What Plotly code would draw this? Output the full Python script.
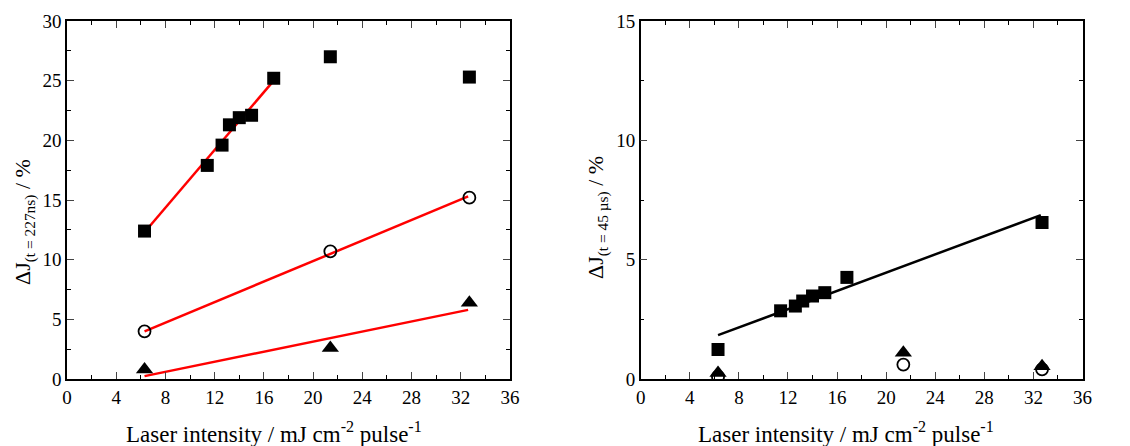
import plotly.graph_objects as go

# Left panel: ΔJ at t = 227 ns
sq_x_a = [6.3, 11.4, 12.6, 13.2, 14.0, 15.0, 16.8, 21.4, 32.7]
sq_y_a = [12.4, 17.9, 19.6, 21.3, 21.9, 22.1, 25.2, 27.0, 25.3]
ci_x_a = [6.3, 21.4, 32.7]
ci_y_a = [4.0, 10.7, 15.2]
tr_x_a = [6.3, 21.4, 32.7]
tr_y_a = [0.8, 2.6, 6.4]

# linear fits (end points)
fit_sq_x_a = [6.3, 16.8]
fit_sq_y_a = [12.3, 25.0]
fit_ci_x_a = [6.3, 32.6]
fit_ci_y_a = [4.0, 15.3]
fit_tr_x_a = [6.3, 32.6]
fit_tr_y_a = [0.25, 5.8]

# Right panel: ΔJ at t = 45 µs
sq_x_b = [6.3, 11.4, 12.6, 13.2, 14.0, 15.0, 16.8, 32.7]
sq_y_b = [1.24, 2.86, 3.06, 3.27, 3.48, 3.62, 4.26, 6.56]
ci_x_b = [6.3, 21.4, 32.7]
ci_y_b = [0.1, 0.61, 0.41]
tr_x_b = [6.3, 21.4, 32.7]
tr_y_b = [0.26, 1.1, 0.54]

fit_sq_x_b = [6.3, 32.6]
fit_sq_y_b = [1.84, 6.87]

x_ticks = [0, 4, 8, 12, 16, 20, 24, 28, 32, 36]

x_title = "Laser intensity / mJ cm<sup>-2</sup> pulse<sup>-1</sup>"
y_title_a = "ΔJ<sub>(t = 227ns)</sub> / %"
y_title_b = "ΔJ<sub>(t = 45 µs)</sub> / %"

FONT = "Liberation Serif"
W, H = 1130, 446

fig = go.Figure()

def add_panel(xa, ya, sqx, sqy, cix, ciy, trx, try_, fits):
    for fx, fy, col in fits:
        fig.add_trace(go.Scatter(x=fx, y=fy, mode="lines", xaxis=xa, yaxis=ya,
                                 line=dict(color=col, width=2.5), showlegend=False,
                                 hoverinfo="skip"))
    fig.add_trace(go.Scatter(x=cix, y=ciy, mode="markers", xaxis=xa, yaxis=ya,
                             marker=dict(symbol="circle-open", size=12, color="black",
                                         line=dict(width=1.8)), showlegend=False))
    fig.add_trace(go.Scatter(x=trx, y=try_, mode="markers", xaxis=xa, yaxis=ya,
                             marker=dict(symbol="triangle-up", size=15, color="black"),
                             showlegend=False))
    fig.add_trace(go.Scatter(x=sqx, y=sqy, mode="markers", xaxis=xa, yaxis=ya,
                             marker=dict(symbol="square", size=13, color="black"),
                             showlegend=False))

add_panel("x", "y", sq_x_a, sq_y_a, ci_x_a, ci_y_a, tr_x_a, tr_y_a,
          [(fit_sq_x_a, fit_sq_y_a, "red"), (fit_ci_x_a, fit_ci_y_a, "red"),
           (fit_tr_x_a, fit_tr_y_a, "red")])
add_panel("x2", "y2", sq_x_b, sq_y_b, ci_x_b, ci_y_b, tr_x_b, tr_y_b,
          [(fit_sq_x_b, fit_sq_y_b, "black")])

common_x = dict(range=[0, 36], tickvals=x_ticks, ticks="inside", ticklen=7,
                tickwidth=1.3, showline=True, linecolor="black", linewidth=1.5,
                mirror="ticks", showgrid=False, zeroline=False, automargin=False,
                tickfont=dict(family=FONT, size=19, color="black"),
                minor=dict(dtick=2, ticks="inside", ticklen=4, tickwidth=1.2,
                           tickcolor="black", showgrid=False))
common_y = dict(ticks="inside", ticklen=7, tickwidth=1.3, showline=True,
                linecolor="black", linewidth=1.5, mirror="ticks", showgrid=False,
                zeroline=False, automargin=False,
                tickfont=dict(family=FONT, size=19, color="black"),
                minor=dict(dtick=2.5, ticks="inside", ticklen=4, tickwidth=1.2,
                           tickcolor="black", showgrid=False))

def title_ann(text, px, py, angle=0, size=22):
    return dict(text=text, x=px / W, y=1 - py / H, xref="paper", yref="paper",
                xanchor="center", yanchor="middle", textangle=angle, showarrow=False,
                font=dict(family=FONT, size=size, color="black"))

fig.update_layout(
    width=W, height=H, margin=dict(l=0, r=0, t=0, b=0),
    paper_bgcolor="white", plot_bgcolor="white",
    font=dict(family=FONT, color="black"),
    xaxis=dict(domain=[0.0593, 0.4513], anchor="y", **common_x),
    yaxis=dict(domain=[0.150, 0.953], anchor="x", range=[0, 30],
               tickvals=[0, 5, 10, 15, 20, 25, 30], **common_y),
    xaxis2=dict(domain=[0.567, 0.958], anchor="y2", **common_x),
    yaxis2=dict(domain=[0.150, 0.953], anchor="x2", range=[0, 15],
                tickvals=[0, 5, 10, 15], **common_y),
    annotations=[
        title_ann(x_title, 274, 432, size=23),
        title_ann(x_title, 846, 432, size=23),
        title_ann(y_title_a, 24, 222, angle=-90, size=22),
        title_ann(y_title_b, 597, 218, angle=-90, size=22),
    ],
)

fig.write_html("out.html")
